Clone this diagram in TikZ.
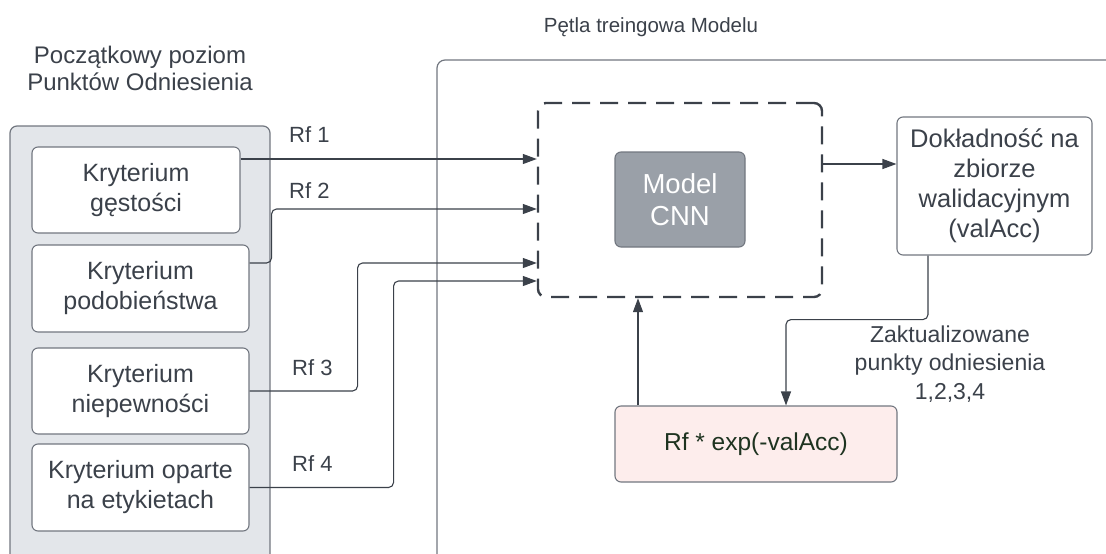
\documentclass[tikz,border=0pt]{standalone}
\usepackage{fontspec}
\setmainfont{Liberation Sans}
\usetikzlibrary{arrows.meta}

\definecolor{ink}{HTML}{3B414A}
\definecolor{edge}{HTML}{727780}
\definecolor{panelfill}{HTML}{E3E6EA}
\definecolor{cnnfill}{HTML}{9AA0A8}
\definecolor{pinkfill}{HTML}{FDEDEC}
\definecolor{formula}{HTML}{1E3320}

\tikzset{
  crit/.style={draw=edge, line width=1.1pt, fill=white, rounded corners=6pt,
    align=center, text=ink, inner sep=0pt, font=\fontsize{25}{30}\selectfont},
  conn/.style={draw=ink, line width=1.1pt, rounded corners=5pt},
  arr/.style={conn, -{Triangle[length=14pt,width=10pt]}},
  lbl/.style={text=ink, inner sep=0pt, font=\fontsize{22}{27}\selectfont},
  loopbox/.style={draw=ink, line width=2.4pt, dash pattern=on 18pt off 10pt,
    rounded corners=8pt, inner sep=0pt},
}

\begin{document}
\begin{tikzpicture}[x=1pt, y=-1pt]
\useasboundingbox (0,0) rectangle (1106,554);

\begin{scope}
  \clip (0,0) rectangle (1106,554);
  % left panel holding the four criteria
  \draw[draw=edge, fill=panelfill, line width=1.2pt, rounded corners=7pt]
    (10,126) rectangle (270,575);
  % frame of the training loop
  \draw[draw=edge, line width=1.2pt, rounded corners=8pt]
    (437,575) -- (437,60) -- (1130,60);
\end{scope}

% titles
\node[lbl, align=center, font=\fontsize{24}{27}\selectfont] (ttl) at (140,68)
  {Początkowy poziom\\Punktów Odniesienia};
\node[lbl, anchor=base, font=\fontsize{20.5}{25}\selectfont] (ttr) at (651,32)
  {Pętla treingowa Modelu};

% criteria
\node[crit, minimum width=208pt, minimum height=86pt] (k1) at (136,190)
  {Kryterium\\gęstości};
\node[crit, minimum width=217pt, minimum height=87pt] (k2) at (140.5,288.5)
  {Kryterium\\podobieństwa};
\node[crit, minimum width=217pt, minimum height=86pt] (k3) at (140.5,391)
  {Kryterium\\niepewności};
\node[crit, minimum width=217pt, minimum height=87pt] (k4) at (140.5,487.5)
  {Kryterium oparte\\na etykietach};

% training loop
\node[loopbox, minimum width=284pt, minimum height=194pt] (loop) at (680,200) {};
\node[crit, fill=cnnfill, text=white, minimum width=130pt, minimum height=95pt,
  font=\fontsize{27.5}{32}\selectfont] (cnn) at (680,199.5) {Model\\CNN};
\node[crit, minimum width=195pt, minimum height=138pt,
  font=\fontsize{25.5}{30}\selectfont] (val) at (994.5,186)
  {Dokładność na\\zbiorze\\walidacyjnym\\(valAcc)};
\node[crit, fill=pinkfill, text=formula, minimum width=282pt, minimum height=76pt,
  font=\fontsize{24.5}{28}\selectfont] (upd) at (756,444) {Rf * exp(-valAcc)};

% reference-point inputs
\draw[arr] ([yshift=31pt]k1.east) -- ([yshift=41pt]loop.west);
\draw[arr] ([yshift=25.5pt]k2.east) -- ++(22,0) |- ([yshift=-9pt]loop.west);
\draw[arr] (k3.east) -- ++(108,0) |- ([yshift=-63pt]loop.west);
\draw[arr] (k4.east) -- ++(144,0) |- ([yshift=-81pt]loop.west);

\node[lbl, anchor=base west] (rf1) at (289,142) {Rf 1};
\node[lbl, anchor=base west] (rf2) at (289,198) {Rf 2};
\node[lbl, anchor=base west] (rf3) at (292,375) {Rf 3};
\node[lbl, anchor=base west] (rf4) at (292,471) {Rf 4};

% feedback loop
\coordinate (outv) at ([yshift=36pt]loop.east);
\draw[arr] (outv) -- (val.west |- outv);
\draw[arr] ([xshift=-66.5pt]val.south) -- ++(0,64) -| ([xshift=30pt]upd.north);
\draw[arr] ([xshift=-118pt]upd.north) -- ([xshift=-42pt]loop.south);

\node[lbl, align=center, font=\fontsize{23}{28.5}\selectfont] (note) at (950,364)
  {Zaktualizowane\\punkty odniesienia\\1,2,3,4};
\end{tikzpicture}
\end{document}
